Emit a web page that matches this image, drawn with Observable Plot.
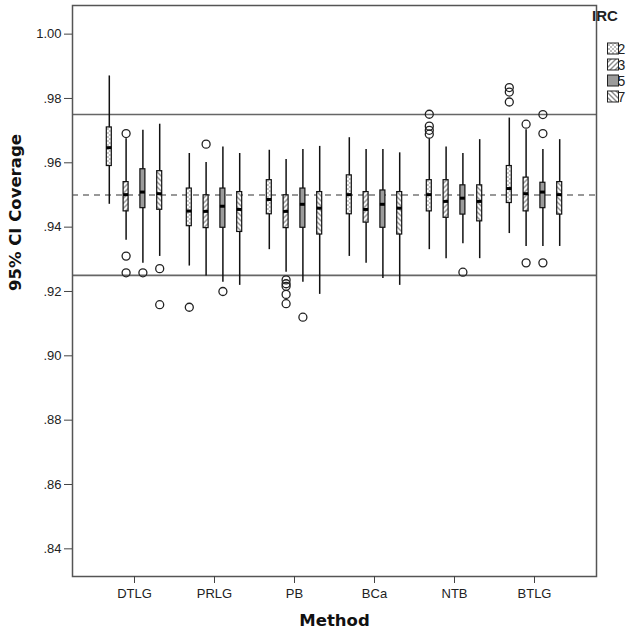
<!DOCTYPE html>
<html>
<head>
<meta charset="utf-8">
<script src="https://cdn.jsdelivr.net/npm/d3@7"></script>
<script src="https://cdn.jsdelivr.net/npm/@observablehq/plot@0.6"></script>
<style>
  body { margin: 0; background: #fff; }
  #chart { position: relative; width: 638px; height: 637px; }
</style>
</head>
<body>
<svg width="0" height="0" style="position:absolute">
  <defs>
    <pattern id="pat2" patternUnits="userSpaceOnUse" width="4" height="4">
      <rect width="4" height="4" fill="#fff"/>
      <rect x="0" y="0" width="2" height="2" fill="#bdbdbd"/>
      <rect x="2" y="2" width="2" height="2" fill="#bdbdbd"/>
    </pattern>
    <pattern id="pat3" patternUnits="userSpaceOnUse" width="5" height="5">
      <rect width="5" height="5" fill="#fff"/>
      <path d="M-1,1 l2,-2 M0,5 l5,-5 M4,6 l2,-2" stroke="#8a8a8a" stroke-width="1.4"/>
    </pattern>
    <pattern id="pat7" patternUnits="userSpaceOnUse" width="5" height="5">
      <rect width="5" height="5" fill="#fff"/>
      <path d="M-1,4 l2,2 M0,0 l5,5 M4,-1 l2,2" stroke="#8a8a8a" stroke-width="1.4"/>
    </pattern>
  </defs>
</svg>
<div id="chart"></div>
<script>
const methods = ["DTLG", "PRLG", "PB", "BCa", "NTB", "BTLG"];
const ircLevels = ["2", "3", "5", "7"];

// rows = methods, columns = IRC 2, 3, 5, 7
const whiskerLow = [
  [0.9471, 0.9359, 0.9288, 0.9309],
  [0.9279, 0.9248, 0.9229, 0.9219],
  [0.9330, 0.9260, 0.9229, 0.9191],
  [0.9309, 0.9288, 0.9240, 0.9219],
  [0.9330, 0.9302, 0.9348, 0.9302],
  [0.9380, 0.9340, 0.9340, 0.9340]
];
const lowerQuartile = [
  [0.9590, 0.9449, 0.9459, 0.9454],
  [0.9403, 0.9397, 0.9398, 0.9385],
  [0.9440, 0.9397, 0.9398, 0.9377],
  [0.9440, 0.9414, 0.9398, 0.9377],
  [0.9449, 0.9429, 0.9439, 0.9418],
  [0.9475, 0.9449, 0.9459, 0.9439]
];
const medians = [
  [0.9647, 0.9501, 0.9509, 0.9504],
  [0.9450, 0.9449, 0.9465, 0.9455],
  [0.9486, 0.9449, 0.9471, 0.9459],
  [0.9501, 0.9455, 0.9471, 0.9459],
  [0.9501, 0.9480, 0.9490, 0.9480],
  [0.9520, 0.9504, 0.9509, 0.9501]
];
const upperQuartile = [
  [0.9710, 0.9540, 0.9580, 0.9574],
  [0.9520, 0.9499, 0.9520, 0.9509],
  [0.9546, 0.9499, 0.9520, 0.9509],
  [0.9561, 0.9509, 0.9514, 0.9509],
  [0.9546, 0.9546, 0.9530, 0.9530],
  [0.9590, 0.9554, 0.9538, 0.9540]
];
const whiskerHigh = [
  [0.9870, 0.9675, 0.9701, 0.9720],
  [0.9629, 0.9601, 0.9649, 0.9629],
  [0.9639, 0.9610, 0.9641, 0.9651],
  [0.9678, 0.9641, 0.9641, 0.9631],
  [0.9675, 0.9649, 0.9629, 0.9672],
  [0.9739, 0.9703, 0.9641, 0.9672]
];
// [method, IRC, coverage]
const outliers = [
  ["DTLG", "3", 0.9691], ["DTLG", "3", 0.9310], ["DTLG", "3", 0.9258],
  ["DTLG", "5", 0.9258],
  ["DTLG", "7", 0.9271], ["DTLG", "7", 0.9159],
  ["PRLG", "2", 0.9151],
  ["PRLG", "3", 0.9658],
  ["PRLG", "5", 0.9200],
  ["PB", "3", 0.9236], ["PB", "3", 0.9224], ["PB", "3", 0.9216], ["PB", "3", 0.9191], ["PB", "3", 0.9162],
  ["PB", "5", 0.9120],
  ["NTB", "2", 0.9751], ["NTB", "2", 0.9714], ["NTB", "2", 0.9701], ["NTB", "2", 0.9689],
  ["NTB", "5", 0.9260],
  ["BTLG", "2", 0.9834], ["BTLG", "2", 0.9820], ["BTLG", "2", 0.9789],
  ["BTLG", "3", 0.9720], ["BTLG", "3", 0.9289],
  ["BTLG", "5", 0.9750], ["BTLG", "5", 0.9691], ["BTLG", "5", 0.9289]
];
const refSolid = [0.975, 0.925];
const refDashed = [0.95];
const yTicks = [0.84, 0.86, 0.88, 0.90, 0.92, 0.94, 0.96, 0.98, 1.00];

const rows = [];
methods.forEach((m, i) => ircLevels.forEach((k, j) => rows.push({
  Method: m, IRC: k,
  lo: whiskerLow[i][j], q1: lowerQuartile[i][j], med: medians[i][j],
  q3: upperQuartile[i][j], hi: whiskerHigh[i][j]
})));
const outlierRows = outliers.map(([m, k, v]) => ({Method: m, IRC: k, value: v}));

const fills = {"2": "url(#pat2)", "3": "url(#pat3)", "5": "#9b9b9b", "7": "url(#pat7)"};
const groupStep = 16.8;
const inset = 37.5;

const marks = [
  Plot.ruleY(refSolid, {stroke: "#666", strokeWidth: 1.6}),
  Plot.ruleY(refDashed, {stroke: "#333", strokeWidth: 1.2, strokeDasharray: "6,5"})
];
ircLevels.forEach((k, j) => {
  const dx = (j - 1.5) * groupStep;
  const d = rows.filter(r => r.IRC === k);
  const o = outlierRows.filter(r => r.IRC === k);
  marks.push(
    Plot.ruleX(d, {x: "Method", y1: "lo", y2: "hi", dx, stroke: "#111", strokeWidth: 1.5}),
    Plot.barY(d, {x: "Method", y1: "q1", y2: "q3", dx, insetLeft: inset, insetRight: inset,
      fill: fills[k], stroke: "#111", strokeWidth: 1.2}),
    Plot.tickY(d, {x: "Method", y: "med", dx, insetLeft: inset, insetRight: inset,
      stroke: "#000", strokeWidth: 3}),
    Plot.dot(o, {x: "Method", y: "value", dx, r: 4, stroke: "#222", strokeWidth: 1.3, fill: "none"})
  );
});
marks.push(
  Plot.frame({stroke: "#555", strokeWidth: 1.5}),
  Plot.axisY({ticks: yTicks, tickFormat: d => d.toFixed(2).replace(/^0/, ""),
    tickSize: 8, tickPadding: 3, fontSize: 13, label: null, stroke: "#444"}),
  Plot.axisX({tickSize: 7, tickPadding: 5, fontSize: 13, label: null, stroke: "#444"}),
  Plot.text(["95% CI Coverage"], {text: d => d, frameAnchor: "left", dx: -57, rotate: -90,
    fontSize: 16.5, fontWeight: "bold", fontFamily: "DejaVu Sans", fill: "#111"}),
  Plot.text(["Method"], {text: d => d, frameAnchor: "bottom", dy: 49,
    fontSize: 16.5, fontWeight: "bold", fontFamily: "DejaVu Sans", fill: "#111"})
);

const plot = Plot.plot({
  width: 638,
  height: 637,
  marginLeft: 72,
  marginRight: 42,
  marginTop: 5,
  marginBottom: 61,
  style: {fontFamily: "Liberation Sans, Arial, sans-serif", color: "#222", background: "#fff"},
  x: {type: "band", domain: methods, paddingInner: 0, paddingOuter: 0.235},
  y: {domain: [0.8314, 1.0089]},
  marks
});
document.getElementById("chart").appendChild(plot);

// Legend (IRC) on the right
const svg = d3.select(plot);
const lg = svg.append("g").attr("font-family", "Liberation Sans, Arial, sans-serif");
lg.append("text").attr("x", 605).attr("y", 21).attr("font-size", 15).attr("font-weight", "bold")
  .attr("fill", "#222").text("IRC");
ircLevels.forEach((k, j) => {
  const y0 = 43 + j * 16;
  lg.append("rect").attr("x", 607.5).attr("y", y0).attr("width", 11).attr("height", 11)
    .attr("fill", fills[k]).attr("stroke", "#222").attr("stroke-width", 1);
  lg.append("text").attr("x", 621.5).attr("y", y0 + 11).attr("font-size", 14).attr("fill", "#222").text(k);
});
</script>
</body>
</html>
